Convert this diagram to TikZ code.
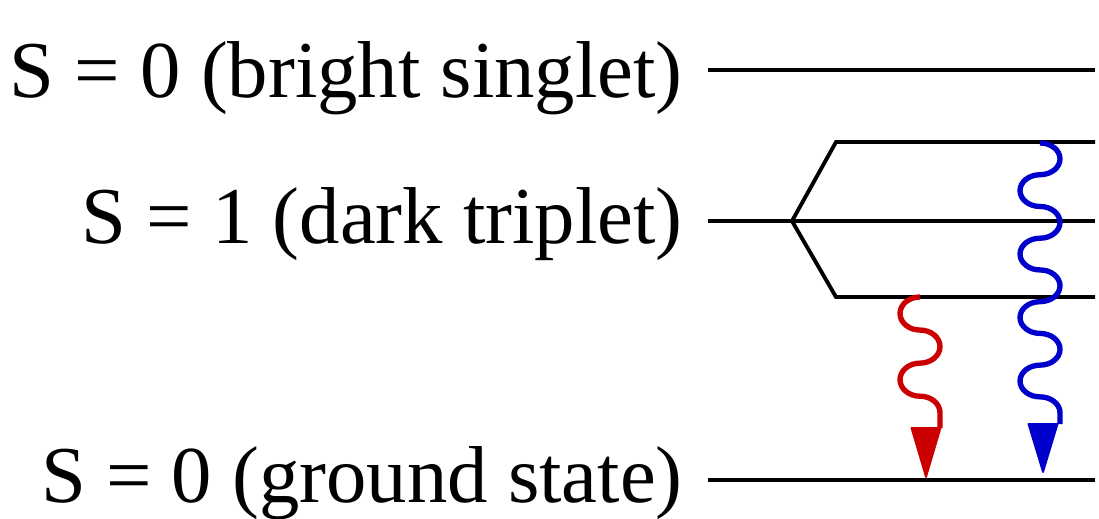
\documentclass[tikz,border=0pt]{standalone}
\usepackage{fontspec}
\setmainfont{Liberation Serif}
\definecolor{wavered}{RGB}{204,0,0}
\definecolor{waveblue}{RGB}{0,0,204}
\tikzset{
  level/.style={line width=2.9pt, black, line join=miter},
  statelabel/.style={anchor=base east, inner sep=0pt, font=\fontsize{60.5}{62}\selectfont},
  wave/.style={line width=4pt, line cap=butt},
  arrowhead/.style={line width=1.4pt, line join=round},
  rbulge/.style={start angle=90, end angle=-90, x radius=15pt, y radius=#1},
  lbulge/.style={start angle=90, end angle=270, x radius=15pt, y radius=#1},
}
\begin{document}
\begin{tikzpicture}[x=0.75pt, y=-0.75pt]
\useasboundingbox (0,0) rectangle (1099,518);

% state labels
\node[statelabel] (lbright) at (683,97) {S = 0 (bright singlet)};
\node[statelabel] (ldark)   at (683,243) {S = 1 (dark triplet)};
\node[statelabel] (lground) at (683,502) {S = 0 (ground state)};

% energy levels
\coordinate (b0) at (708,70);   \coordinate (b1) at (1095,70);
\coordinate (t0) at (708,221);  \coordinate (t1) at (1095,221);
\coordinate (ts) at (792,221);
\coordinate (tu0) at (836,142); \coordinate (tu1) at (1095,142);
\coordinate (td0) at (836,297); \coordinate (td1) at (1095,297);
\coordinate (g0) at (708,480);  \coordinate (g1) at (1095,480);

\draw[level] (b0) -- (b1);
\draw[level] (t0) -- (t1);
\draw[level] (tu1) -- (tu0) -- (ts) -- (td0) -- (td1);
\draw[level] (g0) -- (g1);

% red emission from the lowest triplet sublevel
\coordinate (rs) at (920,297);
\coordinate (rb) at (926,428);
\draw[wave, wavered] (rs)
  arc[lbulge=12.4pt] arc[rbulge=12.4pt] arc[lbulge=12.4pt]
  arc[start angle=90, end angle=0, x radius=15pt, y radius=12.4pt]
  coordinate (re) -- (re |- rb);
\filldraw[arrowhead, wavered] (rb) ++(-14.5,0) -- ++(29,0) -- (926,477) -- cycle;

% blue emission from the highest triplet sublevel
\coordinate (bs) at (1040,143);
\coordinate (bb) at (1043,424);
\draw[wave, waveblue] (bs)
  arc[rbulge=11.9pt] arc[lbulge=11.9pt] arc[rbulge=11.9pt] arc[lbulge=11.9pt]
  arc[rbulge=11.9pt] arc[lbulge=11.9pt] arc[rbulge=11.9pt] arc[lbulge=11.9pt]
  arc[start angle=90, end angle=0, x radius=15pt, y radius=11.9pt]
  coordinate (be) -- (be |- bb);
\filldraw[arrowhead, waveblue] (bb) ++(-14.5,0) -- ++(29,0) -- (1043,472) -- cycle;
\end{tikzpicture}
\end{document}
